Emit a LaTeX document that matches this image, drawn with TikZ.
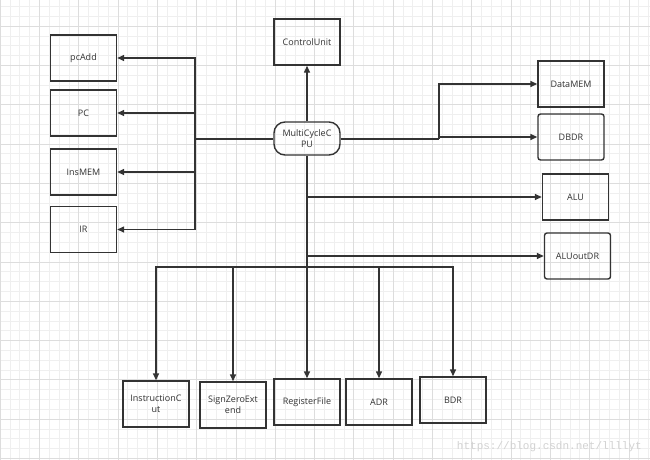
\documentclass[tikz,border=0pt]{standalone}
\usepackage{fontspec}
\setmainfont{Open Sans}
\setmonofont{Liberation Mono}
\usetikzlibrary{arrows.meta}
\definecolor{ink}{HTML}{333333}
\definecolor{gmin}{HTML}{EFEFEF}
\definecolor{gmaj}{HTML}{DDDDDD}
\definecolor{wm}{HTML}{D2D2D2}
\begin{document}
\begin{tikzpicture}[x=1pt,y=-1pt,
  box/.style={draw=ink, line width=1.4pt, minimum width=66pt, minimum height=46pt,
    inner sep=1pt, align=center, font=\fontsize{9}{11}\selectfont, text=ink},
  rbox/.style={box, rounded corners=2.5pt},
  cpubox/.style={box, rounded corners=11pt, minimum width=66pt, minimum height=33pt},
  arr/.style={draw=ink, line width=1.4pt, -{Triangle[length=7pt,width=6pt]}},
  bus/.style={draw=ink, line width=2pt},
  gridmin/.style={draw=gmin, line width=0.5pt},
  gridmaj/.style={draw=gmaj, line width=0.6pt}
]
\useasboundingbox (0,0) rectangle (650,460);
\fill[white] (0,0) rectangle (650,460);
\begin{scope}
\clip (0,0) rectangle (650,460);
\foreach \i in {0,...,67} \draw[gridmin] ({\i*9.825},0) -- ({\i*9.825},460);
\foreach \j in {0,...,48} \draw[gridmin] (0,{-3.475+\j*9.825}) -- (650,{-3.475+\j*9.825});
\foreach \i in {0,...,17} \draw[gridmaj] ({\i*39.3},0) -- ({\i*39.3},460);
\foreach \j in {-1,...,12} \draw[gridmaj] (0,{26+\j*39.3}) -- (650,{26+\j*39.3});
\end{scope}

% nodes
\node[box] (pcadd) at (83.5,58) {pcAdd};
\node[box] (pc) at (83.5,113) {PC};
\node[box] (insmem) at (83.5,172) {InsMEM};
\node[box] (ir) at (83.5,229.5) {IR};
\node[box] (cu) at (307,42) {ControlUnit};
\node[cpubox] (cpu) at (307,138.5) {MultiCycleC\\PU};
\node[box] (datamem) at (571,84) {DataMEM};
\node[rbox] (dbdr) at (571,137) {DBDR};
\node[box] (alu) at (575.5,197) {ALU};
\node[rbox] (aluout) at (577.5,256) {ALUoutDR};
\node[box] (ic) at (156,404) {InstructionC\\ut};
\node[box] (sze) at (233,405) {SignZeroExt\\end};
\node[box] (rf) at (307,402) {RegisterFile};
\node[box] (adr) at (379,402) {ADR};
\node[box] (bdr) at (453,400) {BDR};
\node[font=\fontsize{11}{12}\selectfont\ttfamily, text=wm, anchor=east, inner sep=0pt] (wmk) at (642,447) {https://blog.csdn.net/llllyt};

% junctions
\coordinate (lb) at (195,138.5);
\coordinate (rb) at (439,138.5);
\coordinate (bb) at (307,267);

% left bus
\draw[bus] (cpu.west) -- (lb);
\draw[arr] (lb) |- (pcadd.east);
\draw[arr] (lb) |- (pc.east);
\draw[arr] (lb) |- (insmem.east);
\draw[arr] (lb) |- (ir.east);

% top
\draw[arr] (cpu.north) -- (cu.south);

% right bus
\draw[bus] (cpu.east) -- (rb);
\draw[arr] (rb) |- (datamem.west);
\draw[arr] (rb) |- (dbdr.west);

% trunk down
\draw[bus] (cpu.south) -- (bb);
\draw[arr] (cpu.south |- alu.west) -- (alu.west);
\draw[arr] (cpu.south |- aluout.west) -- (aluout.west);

% bottom bus
\draw[arr] (bb) -| (ic.north);
\draw[arr] (bb) -| (sze.north);
\draw[arr] (bb) -- (rf.north);
\draw[arr] (bb) -| (adr.north);
\draw[arr] (bb) -| (bdr.north);
\end{tikzpicture}
\end{document}
